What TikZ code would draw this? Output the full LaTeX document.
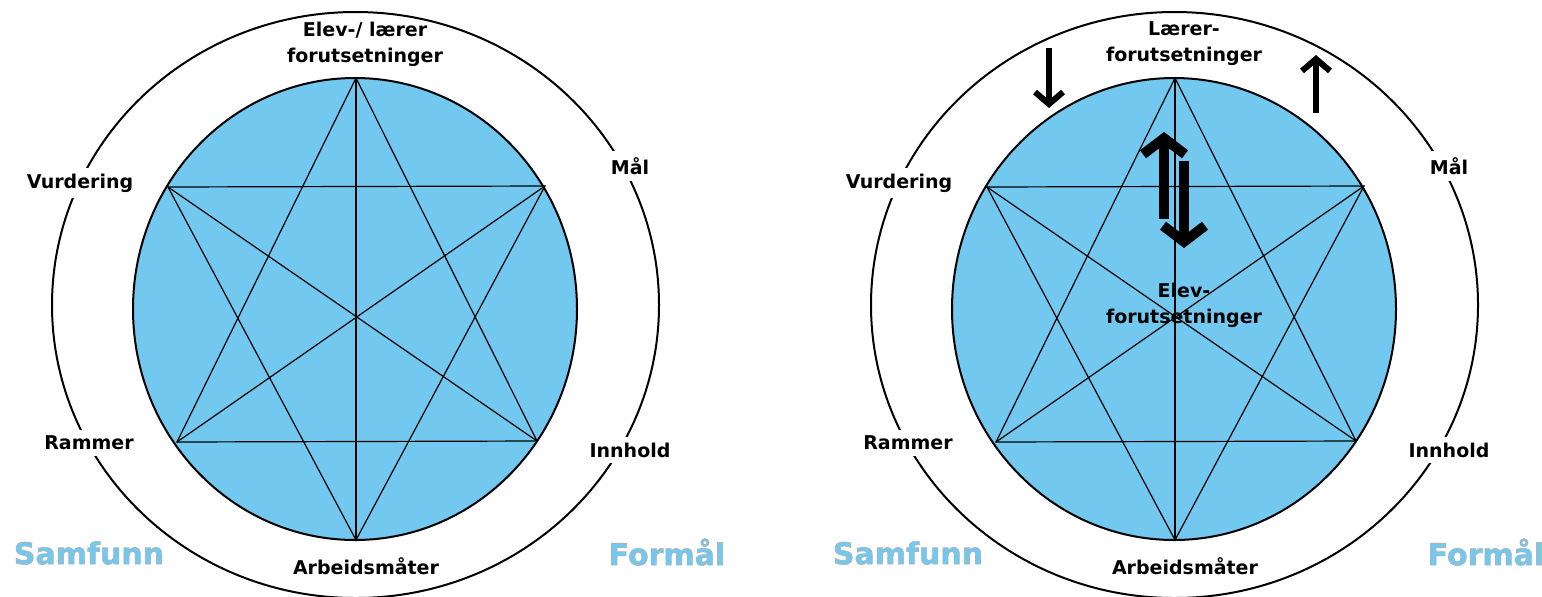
\documentclass[tikz,border=0pt]{standalone}
\usepackage{fontspec}
\setmainfont{DejaVu Sans}
\usepackage{xcolor}
\usetikzlibrary{arrows.meta}
\definecolor{wheelblue}{RGB}{114,200,238}
% thin grey outline round the blue corner words
\newcommand\outlined[1]{\special{pdf:code q 0.7 G 0.3 w 2 Tr}#1\special{pdf:code Q}}
\tikzset{
  ringlabel/.style={fill=white, inner sep=3pt, align=center,
    font=\fontsize{9.5}{13}\selectfont\bfseries},
  innerlabel/.style={ringlabel, fill=none, inner sep=1pt},
  cornerlabel/.style={inner sep=1pt, text=wheelblue,
    font=\fontsize{15}{18}\selectfont\bfseries},
  ringline/.style={line width=1pt},
  starline/.style={line width=0.6pt},
  bigarrw/.style={-{Straight Barb[length=8pt,width=21pt]}, line width=5pt},
  smallarrw/.style={-{Straight Barb[length=6pt,width=14pt]}, line width=3pt},
}

\begin{document}
\begin{tikzpicture}[x=0.5pt, y=-0.5pt]
  \useasboundingbox (0,0) rectangle (1542,596);

  % the two wheels
  \foreach \side/\dx in {L/0, R/819} {
    \begin{scope}[shift={(\dx,0)}]
      \draw[ringline] (355.5,305) ellipse [x radius=303.5, y radius=293];
      \draw[ringline, fill=wheelblue] (355,309) ellipse [x radius=222, y radius=231];

      \coordinate (\side-top) at (356,78);
      \coordinate (\side-ur) at (545,186);
      \coordinate (\side-lr) at (537,441);
      \coordinate (\side-bot) at (356,540);
      \coordinate (\side-ll) at (177,442);
      \coordinate (\side-ul) at (168,187);

      \draw[starline] (\side-top) -- (\side-ll) -- (\side-lr) -- cycle;
      \draw[starline] (\side-bot) -- (\side-ul) -- (\side-ur) -- cycle;
      \draw[starline] (\side-ul) -- (\side-lr);
      \draw[starline] (\side-ur) -- (\side-ll);
      \draw[starline] (\side-top) -- (\side-bot);

      \node[ringlabel] (\side-vurd) at (80,183) {Vurdering};
      \node[ringlabel] (\side-maal) at (630,166) {Mål};
      \node[ringlabel] (\side-ramme) at (89,443) {Rammer};
      \node[ringlabel] (\side-innh) at (630,450) {Innhold};
      \node[ringlabel] (\side-arb) at (366,566) {Arbeidsmåter};
      \node[cornerlabel] (\side-samf) at (89,553) {\outlined{Samfunn}};
      \node[cornerlabel] (\side-form) at (667,552) {\outlined{Formål}};
    \end{scope}
  }

  \node[innerlabel] (L-forut) at (365,44) {Elev-/ lærer\\forutsetninger};
  \node[innerlabel] (R-forut) at (1184,44) {Lærer-\\forutsetninger};
  \node[innerlabel] (R-elev) at (1184,305) {Elev-\\forutsetninger};

  % arrows of the right wheel
  \coordinate (R-dn-a) at (1049,48);
  \coordinate (R-dn-b) at (1049,108);
  \coordinate (R-up-a) at (1316,113);
  \coordinate (R-up-b) at (1316,55);
  \coordinate (R-bigup-a) at (1164,219);
  \coordinate (R-bigup-b) at (1164,132);
  \coordinate (R-bigdn-a) at (1184,161);
  \coordinate (R-bigdn-b) at (1184,248);

  \draw[smallarrw] (R-dn-a) -- (R-dn-b);
  \draw[smallarrw] (R-up-a) -- (R-up-b);
  \draw[bigarrw] (R-bigup-a) -- (R-bigup-b);
  \draw[bigarrw] (R-bigdn-a) -- (R-bigdn-b);
\end{tikzpicture}
\end{document}
